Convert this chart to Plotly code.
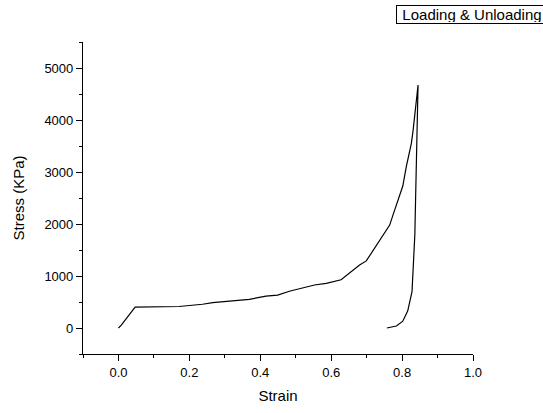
import plotly.graph_objects as go

# Loading branch (strain, stress in KPa)
load_strain = [0.0, 0.008, 0.047, 0.171, 0.237, 0.266, 0.369, 0.416, 0.449, 0.482,
               0.553, 0.586, 0.628, 0.680, 0.699, 0.730, 0.765, 0.774, 0.784, 0.802,
               0.812, 0.826, 0.831, 0.845]
load_stress = [0, 56, 400, 413, 457, 488, 551, 613, 632, 707,
               827, 857, 927, 1210, 1290, 1603, 1979, 2167, 2370, 2731,
               3107, 3545, 3797, 4673]
# Unloading branch
unload_strain = [0.845, 0.838, 0.836, 0.828, 0.816, 0.802, 0.784, 0.757]
unload_stress = [4673, 2450, 1800, 700, 330, 132, 38, 0]

strain = load_strain + unload_strain[1:]
stress = load_stress + unload_stress[1:]

x_ticks = [0.0, 0.2, 0.4, 0.6, 0.8, 1.0]
x_tick_labels = ["0.0", "0.2", "0.4", "0.6", "0.8", "1.0"]
y_ticks = [0, 1000, 2000, 3000, 4000, 5000]
y_tick_labels = ["0", "1000", "2000", "3000", "4000", "5000"]

font_family = "Liberation Sans, Arial, sans-serif"

fig = go.Figure()
fig.add_trace(go.Scatter(x=strain, y=stress, mode="lines",
                         line=dict(color="black", width=1.2),
                         name="Loading & Unloading", showlegend=False))

fig.update_layout(
    width=543, height=413,
    margin=dict(l=83, r=70, t=42, b=51),
    paper_bgcolor="white", plot_bgcolor="white",
    font=dict(family=font_family, color="black", size=13),
    xaxis=dict(range=[-0.1, 1.0], showgrid=False, zeroline=False,
               showline=True, linecolor="black", linewidth=1.2,
               ticks="outside", ticklen=6, tickwidth=1.2, tickcolor="black",
               tickvals=x_ticks, ticktext=x_tick_labels,
               tickfont=dict(size=13, color="black"),
               minor=dict(dtick=0.1, tick0=-0.1, ticks="outside", ticklen=3,
                          tickwidth=1.2, tickcolor="black", showgrid=False),
               title=dict(text="Strain", font=dict(size=15, color="black"), standoff=11)),
    yaxis=dict(range=[-500, 5500], showgrid=False, zeroline=False,
               showline=True, linecolor="black", linewidth=1.2,
               ticks="outside", ticklen=6, tickwidth=1.2, tickcolor="black",
               tickvals=y_ticks, ticktext=y_tick_labels,
               tickfont=dict(size=13, color="black"),
               minor=dict(dtick=500, tick0=-500, ticks="outside", ticklen=3,
                          tickwidth=1.2, tickcolor="black", showgrid=False),
               title=dict(text="Stress (KPa)", font=dict(size=15, color="black"), standoff=16)),
)

fig.add_annotation(xref="paper", yref="paper", x=1.193, y=1.089,
                   xanchor="right", yanchor="middle", showarrow=False,
                   text="Loading & Unloading",
                   font=dict(family=font_family, size=15, color="black"),
                   width=148, height=15,
                   bordercolor="black", borderwidth=1, borderpad=1,
                   bgcolor="white")

fig.write_html("out.html", config={"displayModeBar": False},
               post_script="document.body.style.margin='0px';")
